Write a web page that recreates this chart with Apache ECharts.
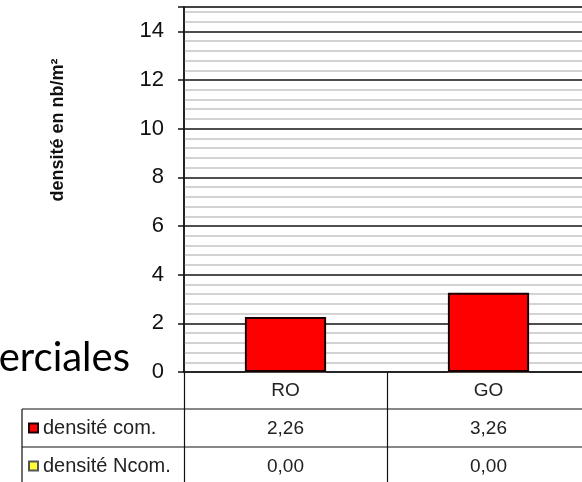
<!DOCTYPE html>
<html>
<head>
<meta charset="utf-8">
<script src="https://cdn.jsdelivr.net/npm/echarts@6/dist/echarts.min.js"></script>
<style>
  html, body { margin: 0; padding: 0; background: #fff; }
  #chart { width: 582px; height: 482px; }
</style>
</head>
<body>
<div id="chart"></div>
<script>
// ---- data ----
var categories = ['RO', 'GO'];
var seriesNames = ['densité com.', 'densité Ncom.'];
var densiteCom = [2.26, 3.26];
var densiteNcom = [0.00, 0.00];
var yTitle = 'densité en nb/m²';
var slideText = 'erciales';
var yMin = 0, yMax = 15, yMajor = 2, yMinor = 0.4;

function fr(v) { return v.toFixed(2).replace('.', ','); }

var FONT = 'Liberation Sans';
var chart = echarts.init(document.getElementById('chart'), null, { renderer: 'canvas' });

var option = {
  backgroundColor: '#ffffff',
  animation: false,
  grid: {
    left: 184, top: 7, right: -8, bottom: 110,
    outerBoundsMode: 'none',
    containLabel: false,
    show: true, backgroundColor: '#ffffff',
    borderColor: '#222', borderWidth: 1.5
  },
  legend: {
    orient: 'vertical',
    left: 28, top: 417,
    padding: 0,
    itemGap: 16,
    itemWidth: 9, itemHeight: 9,
    icon: 'rect',
    data: seriesNames,
    textStyle: { fontFamily: FONT, fontSize: 20, color: '#222', lineHeight: 22 },
    selectedMode: false
  },
  xAxis: {
    type: 'category',
    data: categories,
    axisLine: { lineStyle: { color: '#111', width: 1.5 } },
    axisTick: { show: true, alignWithLabel: false, interval: 0, length: 112, lineStyle: { color: '#111', width: 1.2 } },
    axisLabel: {
      margin: 0,
      interval: 0,
      formatter: function (v, i) {
        return '{c|' + v + '}\n{v|' + fr(densiteCom[i]) + '}\n{v|' + fr(densiteNcom[i]) + '}';
      },
      rich: {
        c: { fontFamily: FONT, fontSize: 19, color: '#222', lineHeight: 38 },
        v: { fontFamily: FONT, fontSize: 19, color: '#222', lineHeight: 38 }
      }
    },
    splitLine: { show: false }
  },
  yAxis: [
    {
      type: 'value', min: yMin, max: yMax, interval: yMajor, z: 1,
      axisLine: { show: true, lineStyle: { color: '#111', width: 1.5 } },
      axisTick: { show: true, length: 6, lineStyle: { color: '#111', width: 1.5 } },
      axisLabel: {
        margin: 20, fontFamily: FONT, fontSize: 22, color: '#111',
        formatter: function (v) { return (v % yMajor === 0) ? String(v) : ''; }
      },
      splitLine: { show: true, lineStyle: { color: '#222', width: 1.5 } }
    },
    {
      type: 'value', min: yMin, max: yMax, interval: yMinor, z: 0, position: 'right',
      axisLine: { show: false }, axisTick: { show: false }, axisLabel: { show: false },
      splitLine: { show: true, lineStyle: { color: '#c4c4c4', width: 1.5 } }
    }
  ],
  series: [
    {
      name: seriesNames[0], type: 'bar', data: densiteCom, barWidth: '40%', barGap: '-100%', z: 3,
      itemStyle: { color: '#ff0000', borderColor: '#1a0000', borderWidth: 2 }
    },
    {
      name: seriesNames[1], type: 'bar', data: densiteNcom, barWidth: '40%', z: 2,
      itemStyle: { color: '#ffff33', borderColor: '#555', borderWidth: 1 }
    }
  ],
  graphic: [
    { type: 'text', x: 58, y: 130, rotation: Math.PI / 2,
      style: { text: yTitle, font: 'bold 18px "' + FONT + '"', fill: '#111', align: 'center', verticalAlign: 'middle' } },
    { type: 'text', x: 130, y: 358,
      style: { text: slideText, font: '40px Lato', fill: '#000', align: 'right', verticalAlign: 'middle' } },
    { type: 'line', shape: { x1: 22, y1: 409, x2: 582, y2: 409 }, style: { stroke: '#111', lineWidth: 1.2 } },
    { type: 'line', shape: { x1: 22, y1: 447, x2: 582, y2: 447 }, style: { stroke: '#111', lineWidth: 1.2 } },
    { type: 'line', shape: { x1: 22, y1: 409, x2: 22, y2: 482 }, style: { stroke: '#111', lineWidth: 1.2 } }
  ]
};
chart.setOption(option);
</script>
</body>
</html>
